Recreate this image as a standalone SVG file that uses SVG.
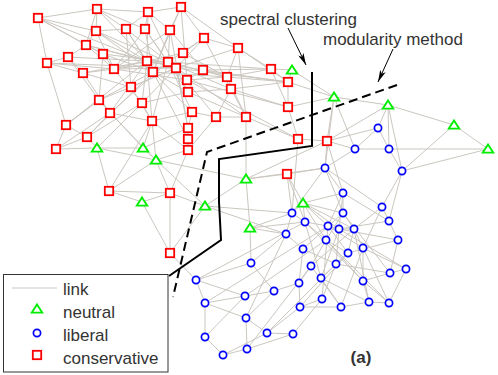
<svg xmlns="http://www.w3.org/2000/svg" xmlns:xlink="http://www.w3.org/1999/xlink" width="498" height="375" viewBox="0 0 498 375">
<style>
.e path{stroke:#cbc7c0;stroke-width:1;fill:none}
.sq{fill:#fff;stroke:#ff0000;stroke-width:1.8}
.ci{fill:#fff;stroke:#0000ff;stroke-width:1.7}
.tr{fill:#fff;stroke:#00ee00;stroke-width:1.9;stroke-linejoin:miter}
.t{font-family:"Liberation Sans",Arial,sans-serif;font-size:17px;fill:#333}
.sep{fill:none;stroke:#000;stroke-width:2}
.arr{fill:none;stroke:#000;stroke-width:1}
</style>
<defs>
<rect id="sq" class="sq" x="-4.2" y="-4.2" width="8.4" height="8.4"/>
<circle id="ci" class="ci" r="3.6"/>
<polygon id="tr" class="tr" points="-5.2,3.6 5.2,3.6 0,-4.4"/>
<marker id="ah" viewBox="0 0 12 6" refX="12" refY="3" markerWidth="12" markerHeight="6" orient="auto" markerUnits="userSpaceOnUse">
<path d="M0 0L12 3L0 6L3 3Z" fill="#000"/>
</marker>
</defs>
<rect width="498" height="375" fill="#fff"/>
<g id="connectors" class="e">
<path d="M38 18L97 9"/><path d="M38 18L96 31"/><path d="M38 18L47 63"/><path d="M38 18L103 54"/><path d="M38 18L147 61"/>
<path d="M97 9L148 12"/><path d="M97 9L96 31"/><path d="M97 9L86 45"/><path d="M97 9L145 29"/><path d="M97 9L147 61"/>
<path d="M148 12L181 7"/><path d="M148 12L145 29"/><path d="M148 12L170 30"/><path d="M148 12L147 61"/><path d="M148 12L176 68"/>
<path d="M181 7L170 30"/><path d="M181 7L204 38"/><path d="M181 7L238 48"/><path d="M181 7L153 72"/><path d="M181 7L187 80"/>
<path d="M96 31L126 29"/><path d="M96 31L86 45"/><path d="M96 31L147 61"/><path d="M96 31L168 62"/>
<path d="M126 29L147 61"/><path d="M126 29L153 72"/><path d="M126 29L131 87"/>
<path d="M145 29L153 72"/><path d="M145 29L168 62"/><path d="M145 29L188 92"/>
<path d="M170 30L153 72"/><path d="M170 30L168 62"/><path d="M170 30L203 70"/><path d="M170 30L188 128"/>
<path d="M204 38L183 53"/><path d="M204 38L176 68"/><path d="M204 38L238 48"/><path d="M204 38L231 89"/>
<path d="M238 48L271 69"/><path d="M238 48L227 77"/><path d="M238 48L246 117"/>
<path d="M86 45L68 57"/><path d="M86 45L103 54"/><path d="M86 45L114 69"/><path d="M86 45L176 68"/>
<path d="M68 57L47 63"/><path d="M68 57L83 73"/><path d="M68 57L147 61"/><path d="M68 57L99 100"/>
<path d="M47 63L83 73"/><path d="M47 63L176 68"/><path d="M47 63L66 125"/>
<path d="M103 54L114 69"/><path d="M103 54L153 72"/><path d="M103 54L99 100"/>
<path d="M83 73L168 62"/><path d="M83 73L131 87"/><path d="M83 73L110 113"/>
<path d="M114 69L147 61"/><path d="M114 69L187 80"/><path d="M114 69L142 103"/>
<path d="M147 61L168 62"/><path d="M147 61L183 53"/><path d="M147 61L203 70"/><path d="M147 61L142 103"/><path d="M147 61L152 121"/>
<path d="M153 72L188 92"/><path d="M153 72L227 77"/><path d="M153 72L192 112"/>
<path d="M168 62L227 77"/><path d="M168 62L231 89"/><path d="M168 62L271 69"/>
<path d="M176 68L288 82"/><path d="M176 68L188 92"/><path d="M176 68L131 87"/>
<path d="M183 53L227 77"/><path d="M203 70L227 77"/><path d="M203 70L187 80"/><path d="M203 70L288 82"/>
<path d="M227 77L288 82"/><path d="M227 77L271 69"/>
<path d="M231 89L288 107"/><path d="M231 89L216 117"/><path d="M231 89L288 82"/>
<path d="M187 80L288 107"/><path d="M187 80L298 139"/>
<path d="M188 92L246 117"/><path d="M188 92L142 103"/>
<path d="M131 87L99 100"/><path d="M131 87L152 121"/>
<path d="M99 100L110 113"/><path d="M99 100L66 125"/>
<path d="M142 103L152 121"/><path d="M142 103L87 137"/>
<path d="M110 113L87 137"/><path d="M110 113L147 61"/>
<path d="M192 112L216 117"/><path d="M192 112L152 121"/>
<path d="M216 117L246 117"/><path d="M246 117L298 139"/>
<path d="M66 125L87 137"/><path d="M66 125L56 149"/>
<path d="M152 121L188 150"/><path d="M188 128L188 139"/><path d="M188 139L188 150"/>
<path d="M87 137L56 149"/><path d="M87 137L97 148"/><path d="M56 149L97 148"/>
<path d="M97 148L143 148"/><path d="M97 148L156 160"/><path d="M143 148L156 160"/><path d="M143 148L99 100"/>
<path d="M152 121L156 160"/><path d="M152 121L143 148"/>
<path d="M126 29L176 68"/><path d="M96 31L153 72"/><path d="M86 45L147 61"/><path d="M103 54L168 62"/><path d="M114 69L176 68"/><path d="M131 87L176 68"/><path d="M99 100L153 72"/><path d="M142 103L176 68"/><path d="M110 113L168 62"/><path d="M83 73L147 61"/><path d="M66 125L147 61"/><path d="M87 137L153 72"/><path d="M152 121L168 62"/><path d="M188 128L176 68"/><path d="M188 139L153 72"/><path d="M192 112L168 62"/><path d="M216 117L176 68"/><path d="M246 117L168 62"/><path d="M238 48L176 68"/><path d="M204 38L153 72"/><path d="M170 30L114 69"/><path d="M145 29L114 69"/><path d="M148 12L126 29"/><path d="M97 9L126 29"/><path d="M187 80L227 77"/><path d="M188 92L231 89"/><path d="M231 89L246 117"/><path d="M227 77L246 117"/><path d="M271 69L288 107"/><path d="M238 48L288 82"/><path d="M203 70L271 69"/><path d="M110 113L152 121"/><path d="M56 149L110 113"/><path d="M66 125L99 100"/><path d="M47 63L114 69"/><path d="M38 18L86 45"/><path d="M96 31L114 69"/><path d="M192 112L188 128"/><path d="M216 117L188 150"/><path d="M143 148L188 128"/><path d="M97 148L142 103"/>
<path d="M156 160L109 191"/><path d="M156 160L170 193"/><path d="M156 160L205 206"/><path d="M156 160L110 113"/><path d="M156 160L246 179"/><path d="M156 160L188 150"/>
<path d="M109 191L142 202"/><path d="M109 191L170 193"/><path d="M109 191L97 148"/><path d="M109 191L152 121"/>
<path d="M142 202L170 193"/><path d="M142 202L170 253"/>
<path d="M170 193L205 206"/><path d="M170 193L170 253"/><path d="M170 193L188 150"/>
<path d="M170 253L205 206"/><path d="M170 253L196 280"/>
<path d="M205 206L246 179"/><path d="M205 206L292 213"/><path d="M205 206L286 234"/>
<path d="M246 179L287 174"/><path d="M246 179L246 117"/><path d="M246 179L250 228"/><path d="M246 179L327 141"/><path d="M246 179L325 168"/>
<path d="M250 228L292 213"/><path d="M250 228L305 222"/><path d="M250 228L286 234"/><path d="M250 228L251 263"/>
<path d="M271 69L292 70"/><path d="M271 69L288 82"/>
<path d="M288 82L288 107"/><path d="M288 82L334 97"/>
<path d="M288 107L298 139"/><path d="M288 107L334 97"/>
<path d="M298 139L327 141"/><path d="M298 139L292 213"/>
<path d="M327 141L334 97"/><path d="M327 141L355 149"/><path d="M327 141L325 168"/><path d="M327 141L378 128"/><path d="M327 141L388 105"/><path d="M327 141L343 193"/>
<path d="M287 174L292 213"/><path d="M287 174L303 203"/><path d="M287 174L325 168"/><path d="M287 174L305 222"/>
<path d="M292 70L288 82"/><path d="M292 70L334 97"/>
<path d="M334 97L388 105"/><path d="M334 97L355 149"/><path d="M334 97L325 168"/>
<path d="M388 105L454 125"/><path d="M388 105L378 128"/><path d="M388 105L389 149"/><path d="M388 105L402 171"/>
<path d="M454 125L488 149"/><path d="M454 125L402 171"/>
<path d="M488 149L402 171"/><path d="M488 149L389 149"/>
<path d="M378 128L355 149"/><path d="M378 128L389 149"/><path d="M355 149L389 149"/><path d="M355 149L325 168"/>
<path d="M389 149L402 171"/>
<path d="M325 168L343 193"/><path d="M325 168L343 213"/>
<path d="M402 171L382 207"/><path d="M402 171L389 221"/>
<path d="M343 193L343 213"/><path d="M343 193L328 226"/><path d="M343 193L339 229"/>
<path d="M382 207L354 229"/><path d="M382 207L363 248"/><path d="M382 207L389 221"/>
<path d="M292 213L305 222"/><path d="M292 213L286 234"/>
<path d="M343 213L354 229"/><path d="M343 213L326 240"/>
<path d="M389 221L398 240"/><path d="M389 221L339 229"/>
<path d="M305 222L328 226"/><path d="M305 222L326 240"/>
<path d="M328 226L339 229"/><path d="M328 226L363 248"/>
<path d="M339 229L354 229"/><path d="M354 229L348 253"/>
<path d="M286 234L303 249"/><path d="M286 234L251 263"/>
<path d="M326 240L348 253"/><path d="M326 240L311 266"/>
<path d="M398 240L390 273"/><path d="M398 240L348 253"/>
<path d="M303 249L336 264"/><path d="M303 249L299 283"/>
<path d="M363 248L363 281"/><path d="M363 248L406 269"/>
<path d="M348 253L336 264"/><path d="M348 253L321 278"/>
<path d="M336 264L322 299"/><path d="M336 264L390 273"/>
<path d="M251 263L274 291"/><path d="M251 263L196 280"/>
<path d="M311 266L299 283"/><path d="M311 266L341 307"/>
<path d="M390 273L406 269"/><path d="M390 273L363 281"/><path d="M406 269L339 229"/>
<path d="M196 280L205 303"/><path d="M196 280L245 296"/>
<path d="M321 278L341 307"/><path d="M321 278L369 302"/>
<path d="M299 283L274 291"/><path d="M299 283L300 307"/>
<path d="M363 281L389 303"/><path d="M363 281L369 302"/>
<path d="M274 291L245 296"/><path d="M274 291L246 318"/>
<path d="M245 296L205 303"/><path d="M245 296L205 337"/>
<path d="M205 303L205 337"/><path d="M205 303L246 318"/>
<path d="M322 299L300 307"/><path d="M322 299L293 334"/>
<path d="M300 307L267 333"/><path d="M300 307L341 307"/>
<path d="M341 307L369 302"/><path d="M369 302L389 303"/><path d="M389 303L406 269"/>
<path d="M246 318L247 349"/><path d="M246 318L267 333"/>
<path d="M205 337L223 355"/><path d="M267 333L293 334"/><path d="M267 333L223 355"/>
<path d="M223 355L247 349"/><path d="M247 349L293 334"/>
<path d="M303 203L292 213"/><path d="M303 203L305 222"/><path d="M303 203L328 226"/><path d="M303 203L354 229"/><path d="M303 203L343 193"/><path d="M303 203L326 240"/><path d="M303 203L339 229"/><path d="M303 203L343 213"/>
<path d="M326 240L389 303"/><path d="M339 229L321 278"/><path d="M328 226L322 299"/><path d="M305 222L363 281"/><path d="M343 213L390 273"/><path d="M354 229L369 302"/><path d="M343 193L389 221"/><path d="M325 168L382 207"/><path d="M292 213L325 168"/><path d="M326 240L245 296"/><path d="M311 266L247 349"/><path d="M336 264L267 333"/><path d="M348 253L300 307"/><path d="M328 226L205 303"/><path d="M305 222L196 280"/><path d="M363 248L341 307"/><path d="M286 234L246 318"/>
<path d="M339 229L336 264"/><path d="M354 229L311 266"/><path d="M328 226L348 253"/><path d="M343 213L303 249"/><path d="M326 240L363 281"/><path d="M339 229L398 240"/><path d="M354 229L389 303"/><path d="M305 222L321 278"/>
</g>
<g id="separators">
<polyline class="sep" points="312,72 312,146 219,159 219,202 221,240 169,276"/>
<polyline class="sep" points="397,85 207,152 173,297" stroke-dasharray="9,5"/>
</g>
<g id="nodes">
<g id="r1"><use href="#sq" x="38" y="18"/></g>
<g id="r2"><use href="#sq" x="97" y="9"/></g>
<g id="r3"><use href="#sq" x="148" y="12"/></g>
<g id="r4"><use href="#sq" x="181" y="7"/></g>
<g id="r5"><use href="#sq" x="96" y="31"/></g>
<g id="r6"><use href="#sq" x="126" y="29"/></g>
<g id="r7"><use href="#sq" x="145" y="29"/></g>
<g id="r8"><use href="#sq" x="170" y="30"/></g>
<g id="r9"><use href="#sq" x="204" y="38"/></g>
<g id="r10"><use href="#sq" x="238" y="48"/></g>
<g id="r11"><use href="#sq" x="86" y="45"/></g>
<g id="r12"><use href="#sq" x="68" y="57"/></g>
<g id="r13"><use href="#sq" x="47" y="63"/></g>
<g id="r14"><use href="#sq" x="103" y="54"/></g>
<g id="r15"><use href="#sq" x="83" y="73"/></g>
<g id="r16"><use href="#sq" x="114" y="69"/></g>
<g id="r17"><use href="#sq" x="147" y="61"/></g>
<g id="r18"><use href="#sq" x="153" y="72"/></g>
<g id="r19"><use href="#sq" x="168" y="62"/></g>
<g id="r20"><use href="#sq" x="176" y="68"/></g>
<g id="r21"><use href="#sq" x="183" y="53"/></g>
<g id="r22"><use href="#sq" x="203" y="70"/></g>
<g id="r23"><use href="#sq" x="227" y="77"/></g>
<g id="r24"><use href="#sq" x="231" y="89"/></g>
<g id="r25"><use href="#sq" x="187" y="80"/></g>
<g id="r26"><use href="#sq" x="188" y="92"/></g>
<g id="r27"><use href="#sq" x="131" y="87"/></g>
<g id="r28"><use href="#sq" x="99" y="100"/></g>
<g id="r29"><use href="#sq" x="142" y="103"/></g>
<g id="r30"><use href="#sq" x="110" y="113"/></g>
<g id="r31"><use href="#sq" x="192" y="112"/></g>
<g id="r32"><use href="#sq" x="216" y="117"/></g>
<g id="r33"><use href="#sq" x="246" y="117"/></g>
<g id="r34"><use href="#sq" x="66" y="125"/></g>
<g id="r35"><use href="#sq" x="152" y="121"/></g>
<g id="r36"><use href="#sq" x="188" y="128"/></g>
<g id="r37"><use href="#sq" x="188" y="139"/></g>
<g id="r38"><use href="#sq" x="188" y="150"/></g>
<g id="r39"><use href="#sq" x="87" y="137"/></g>
<g id="r40"><use href="#sq" x="56" y="149"/></g>
<g id="r41"><use href="#sq" x="271" y="69"/></g>
<g id="r42"><use href="#sq" x="288" y="82"/></g>
<g id="r43"><use href="#sq" x="288" y="107"/></g>
<g id="r44"><use href="#sq" x="298" y="139"/></g>
<g id="r45"><use href="#sq" x="327" y="141"/></g>
<g id="r46"><use href="#sq" x="287" y="174"/></g>
<g id="r47"><use href="#sq" x="109" y="191"/></g>
<g id="r48"><use href="#sq" x="170" y="193"/></g>
<g id="r49"><use href="#sq" x="170" y="253"/></g>
<g id="g1"><use href="#tr" x="97" y="148"/></g>
<g id="g2"><use href="#tr" x="143" y="148"/></g>
<g id="g3"><use href="#tr" x="156" y="160"/></g>
<g id="g4"><use href="#tr" x="246" y="179"/></g>
<g id="g5"><use href="#tr" x="292" y="70"/></g>
<g id="g6"><use href="#tr" x="334" y="97"/></g>
<g id="g7"><use href="#tr" x="388" y="105"/></g>
<g id="g8"><use href="#tr" x="454" y="125"/></g>
<g id="g9"><use href="#tr" x="488" y="149"/></g>
<g id="g10"><use href="#tr" x="205" y="206"/></g>
<g id="g11"><use href="#tr" x="250" y="228"/></g>
<g id="g12"><use href="#tr" x="303" y="203"/></g>
<g id="g13"><use href="#tr" x="142" y="202"/></g>
<g id="b1"><use href="#ci" x="378" y="128"/></g>
<g id="b2"><use href="#ci" x="355" y="149"/></g>
<g id="b3"><use href="#ci" x="389" y="149"/></g>
<g id="b4"><use href="#ci" x="325" y="168"/></g>
<g id="b5"><use href="#ci" x="402" y="171"/></g>
<g id="b6"><use href="#ci" x="343" y="193"/></g>
<g id="b7"><use href="#ci" x="382" y="207"/></g>
<g id="b8"><use href="#ci" x="292" y="213"/></g>
<g id="b9"><use href="#ci" x="343" y="213"/></g>
<g id="b10"><use href="#ci" x="389" y="221"/></g>
<g id="b11"><use href="#ci" x="305" y="222"/></g>
<g id="b12"><use href="#ci" x="328" y="226"/></g>
<g id="b13"><use href="#ci" x="339" y="229"/></g>
<g id="b14"><use href="#ci" x="354" y="229"/></g>
<g id="b15"><use href="#ci" x="286" y="234"/></g>
<g id="b16"><use href="#ci" x="326" y="240"/></g>
<g id="b17"><use href="#ci" x="398" y="240"/></g>
<g id="b18"><use href="#ci" x="303" y="249"/></g>
<g id="b19"><use href="#ci" x="363" y="248"/></g>
<g id="b20"><use href="#ci" x="348" y="253"/></g>
<g id="b21"><use href="#ci" x="336" y="264"/></g>
<g id="b22"><use href="#ci" x="251" y="263"/></g>
<g id="b23"><use href="#ci" x="311" y="266"/></g>
<g id="b24"><use href="#ci" x="390" y="273"/></g>
<g id="b25"><use href="#ci" x="406" y="269"/></g>
<g id="b26"><use href="#ci" x="196" y="280"/></g>
<g id="b27"><use href="#ci" x="321" y="278"/></g>
<g id="b28"><use href="#ci" x="299" y="283"/></g>
<g id="b29"><use href="#ci" x="363" y="281"/></g>
<g id="b30"><use href="#ci" x="274" y="291"/></g>
<g id="b31"><use href="#ci" x="245" y="296"/></g>
<g id="b32"><use href="#ci" x="205" y="303"/></g>
<g id="b33"><use href="#ci" x="322" y="299"/></g>
<g id="b34"><use href="#ci" x="300" y="307"/></g>
<g id="b35"><use href="#ci" x="341" y="307"/></g>
<g id="b36"><use href="#ci" x="369" y="302"/></g>
<g id="b37"><use href="#ci" x="389" y="303"/></g>
<g id="b38"><use href="#ci" x="246" y="318"/></g>
<g id="b39"><use href="#ci" x="205" y="337"/></g>
<g id="b40"><use href="#ci" x="267" y="333"/></g>
<g id="b41"><use href="#ci" x="293" y="334"/></g>
<g id="b42"><use href="#ci" x="223" y="355"/></g>
<g id="b43"><use href="#ci" x="247" y="349"/></g>
</g>
<g id="annotations">
<text class="t" x="220" y="25">spectral clustering</text>
<path class="arr" d="M288 28L306 65" marker-end="url(#ah)"/>
<text class="t" x="323" y="45">modularity method</text>
<path class="arr" d="M393 49L378 82" marker-end="url(#ah)"/>
<text class="t" x="361" y="363" text-anchor="middle" font-weight="bold">(a)</text>
</g>
<g id="legend">
<rect x="3.5" y="274.5" width="164.5" height="97.5" fill="#fff" stroke="#333" stroke-width="1"/>
<path d="M12 288H57" stroke="#cbc7c0" stroke-width="1"/>
<use href="#tr" x="37" y="309"/>
<use href="#ci" x="37" y="333"/>
<use href="#sq" x="37" y="355"/>
<text class="t" x="63" y="295">link</text>
<text class="t" x="63" y="318">neutral</text>
<text class="t" x="63" y="341">liberal</text>
<text class="t" x="63" y="364">conservative</text>
</g>
</svg>
